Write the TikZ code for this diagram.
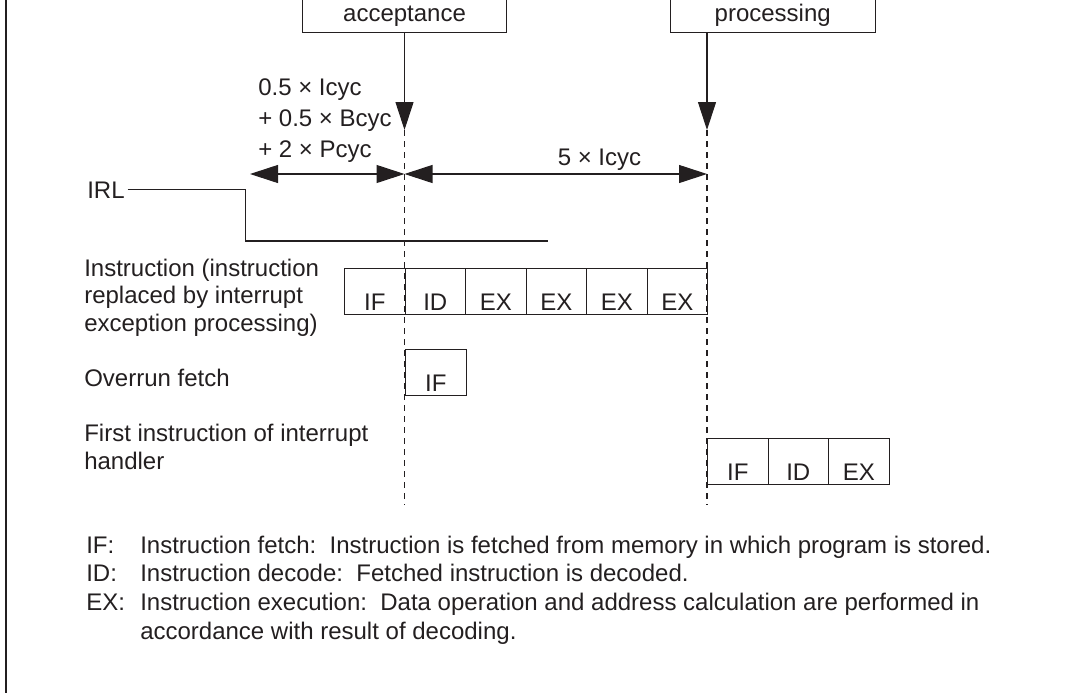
\documentclass[tikz,border=0pt]{standalone}
\usepackage{fontspec}
\setmainfont{Liberation Sans}
\usetikzlibrary{arrows.meta}
\definecolor{ink}{HTML}{231F20}

\begin{document}
\begin{tikzpicture}[
  x=0.75pt, y=-0.75pt,
  every node/.style={font=\fontsize{18}{21}\selectfont, text=ink, inner sep=0pt},
  sigbox/.style={draw=ink, line width=0.8pt, minimum width=153pt, text height=31.5pt, text depth=8.25pt, anchor=south west},
  stage/.style={draw=ink, line width=0.8pt, minimum width=45.4pt, text height=31.5pt, text depth=3pt, anchor=north west},
  lefttext/.style={anchor=base west, align=left},
  flow/.style={-{Triangle[length=21pt, width=13.5pt]}, draw=ink, line width=0.8pt},
  dimarrow/.style={{Triangle[length=21pt, width=13.5pt]}-{Triangle[length=21pt, width=13.5pt]}, draw=ink, line width=0.8pt},
  guide/.style={draw=ink, line width=0.9pt, dash pattern=on 4.5pt off 3.75pt},
  signal/.style={draw=ink, line width=0.9pt}
]
\useasboundingbox (0,0) rectangle (1066,693);

% frame edge on the left
\draw[ink, line width=1.7pt] (6,0) -- (6,693);

% event boxes (cut at the top)
\node[sigbox] (acc) at (302,33) {acceptance};
\node[sigbox, minimum width=154pt] (proc) at (669.5,33) {processing};

\coordinate (atip) at (404.5,130);
\coordinate (aend) at (404.5,505);
\coordinate (ptip) at (707,130);
\coordinate (pend) at (707,505);
\coordinate (dleft) at (250,174);

\draw[flow] (atip |- acc.south) -- (atip);
\draw[flow] (ptip |- proc.south) -- (ptip);
\draw[guide] (atip) -- (aend);
\draw[guide] (ptip) -- (pend);

% timing (multi-line texts sit on their last line)
\node[lefttext, font=\fontsize{18}{22.9}\selectfont] (delay) at (258,157) {0.5 × Icyc\\+ 0.5 × Bcyc\\+ 2 × Pcyc};
\node[lefttext] (five) at (557.5,165) {5 × Icyc};
\draw[dimarrow] (dleft) -- (atip |- dleft);
\draw[dimarrow] (atip |- dleft) -- (ptip |- dleft);

% IRL signal
\node[lefttext] (irl) at (87,198) {IRL};
\coordinate (irlstep) at (245.5,241);
\coordinate (irlend) at (548,241);
\draw[signal] ([xshift=2pt]irl.east) -| (irlstep) -- (irlend);

% pipeline rows
\node[lefttext, font=\fontsize{18}{20.6}\selectfont] (instr) at (84,331) {Instruction (instruction\\replaced by interrupt\\exception processing)};
\node[lefttext] (over) at (84,386.7) {Overrun fetch};
\node[lefttext] (first) at (84,469) {First instruction of interrupt\\handler};

\foreach \s [count=\i from 0] in {IF,ID,EX,EX,EX,EX}
  \node[stage] (ins\i) at (344+60.5*\i,268) {\s};
\node[stage] (ovr) at (405,349) {IF};
\foreach \s [count=\i from 0] in {IF,ID,EX}
  \node[stage] (hdl\i) at (707+60.5*\i,437.5) {\s};

% key
\node[lefttext, font=\fontsize{18}{21.4}\selectfont] (key) at (86,639) {\makebox[40.5pt][l]{IF:}Instruction fetch:\ \ Instruction is fetched from memory in which program is stored.\\
\makebox[40.5pt][l]{ID:}Instruction decode:\ \ Fetched instruction is decoded.\\
\makebox[40.5pt][l]{EX:}Instruction execution:\ \ Data operation and address calculation are performed in\\
\hspace*{40.5pt}accordance with result of decoding.};

\end{tikzpicture}
\end{document}
